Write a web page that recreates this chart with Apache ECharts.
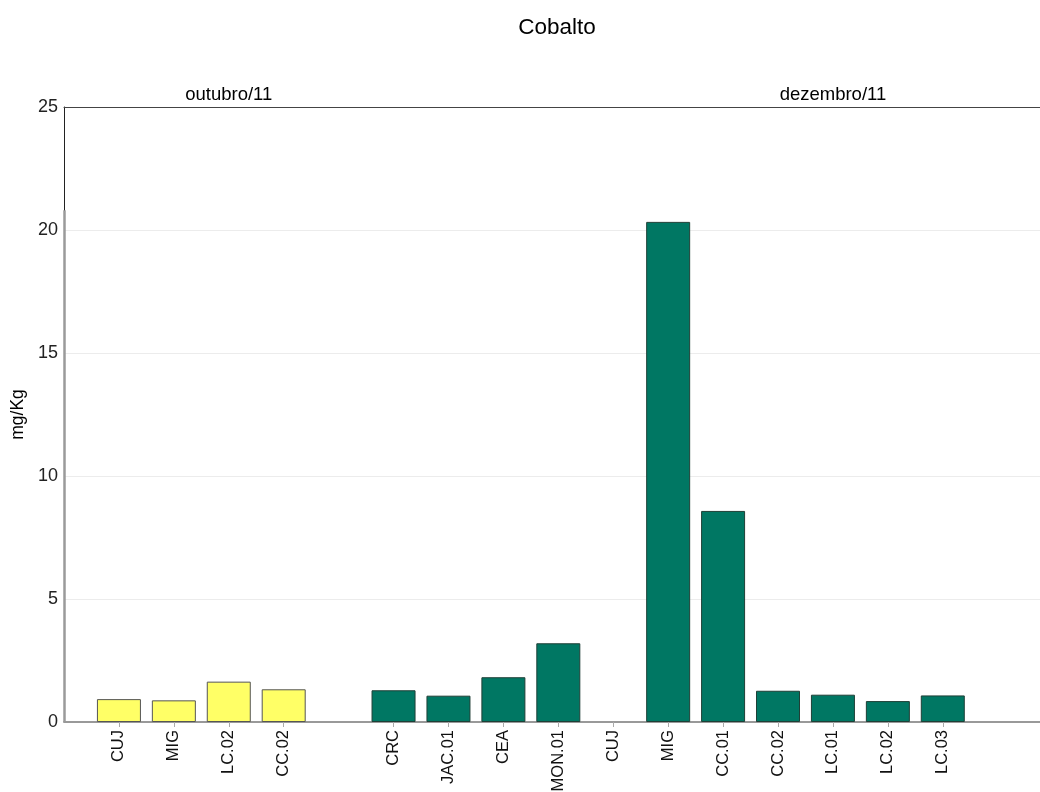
<!DOCTYPE html>
<html>
<head>
<meta charset="utf-8">
<script src="https://cdn.jsdelivr.net/npm/echarts@6/dist/echarts.min.js"></script>
<style>
  html, body { margin: 0; padding: 0; background: #fff; }
  #chart { width: 1040px; height: 792px; }
</style>
</head>
<body>
<div id="chart"></div>
<script>
// Sampling stations along the x axis; empty strings leave a gap slot.
const categories = ["", "CUJ", "MIG", "LC.02", "CC.02", "", "CRC", "JAC.01", "CEA", "MON.01",
  "CUJ", "MIG", "CC.01", "CC.02", "LC.01", "LC.02", "LC.03"];

// Cobalt concentration (mg/Kg) per campaign
const outubroStations = ["CUJ", "MIG", "LC.02", "CC.02"];
const outubroValues = [0.93, 0.88, 1.64, 1.33];
const outubroSlots = [1, 2, 3, 4];

const dezembroStations = ["CRC", "JAC.01", "CEA", "MON.01", "CUJ", "MIG", "CC.01", "CC.02", "LC.01", "LC.02", "LC.03"];
const dezembroValues = [1.29, 1.07, 1.82, 3.2, 0, 20.33, 8.58, 1.27, 1.11, 0.85, 1.08];
const dezembroSlots = [6, 7, 8, 9, 10, 11, 12, 13, 14, 15, 16];

// Campaign headings and the slot each one sits over
const groupNames = ["outubro/11", "dezembro/11"];
const groupSlots = [3, 14];

const yTicks = [0, 5, 10, 15, 20, 25];

const labelSlots = categories.map((c, i) => (c ? i : -1)).filter(i => i >= 0);

// A zero reading gets no outline so nothing shows on the baseline.
function barData(slots, values) {
  return slots.map((s, i) => ({
    value: [s, values[i]],
    itemStyle: values[i] === 0 ? { borderWidth: 0, opacity: 0 } : undefined
  }));
}

const chart = echarts.init(document.getElementById('chart'));
const font = 'Liberation Sans, Arial, sans-serif';

chart.setOption({
  animation: false,
  backgroundColor: '#fff',
  textStyle: { fontFamily: font },
  title: {
    text: 'Cobalto',
    left: 552,
    top: 11,
    textAlign: 'center',
    textStyle: { fontSize: 22.5, fontWeight: 'normal', color: '#000', fontFamily: font }
  },
  grid: { left: 64, right: 0, top: 107, bottom: 70, outerBoundsMode: 'none', containLabel: false },
  xAxis: [
    {
      type: 'value',
      min: 0,
      max: 17.77,
      interval: 1,
      splitLine: { show: false },
      axisLine: { show: true, lineStyle: { color: '#999', width: 2 } },
      axisTick: { show: true, customValues: labelSlots, length: 5, lineStyle: { color: '#aaa', width: 1 } },
      axisLabel: {
        customValues: labelSlots,
        rotate: 90,
        margin: 8,
        fontSize: 16.5,
        color: '#111',
        fontFamily: font,
        formatter: v => categories[Math.round(v)] || ''
      }
    },
    {
      type: 'value',
      position: 'top',
      min: 0,
      max: 17.77,
      interval: 1,
      splitLine: { show: false },
      axisLine: { show: true, lineStyle: { color: '#444', width: 1 } },
      axisTick: { show: false },
      axisLabel: {
        customValues: groupSlots,
        margin: 3,
        fontSize: 18.5,
        color: '#000',
        fontFamily: font,
        formatter: v => groupNames[groupSlots.indexOf(Math.round(v))] || ''
      }
    }
  ],
  yAxis: {
    type: 'value',
    min: 0,
    max: 25,
    interval: 5,
    name: 'mg/Kg',
    nameLocation: 'middle',
    nameGap: 35,
    nameTextStyle: { fontSize: 17.5, color: '#000', fontFamily: font },
    axisLine: { show: true, lineStyle: { color: '#222', width: 1 } },
    axisTick: { show: false },
    axisLabel: {
      fontSize: 18,
      color: '#222',
      margin: 6,
      fontFamily: font,
      customValues: yTicks
    },
    splitLine: { show: true, lineStyle: { color: '#ececec', width: 1 } }
  },
  series: [
    {
      name: 'outubro/11',
      type: 'bar',
      barWidth: 44,
      barGap: '-100%',
      itemStyle: { color: '#ffff66', borderColor: '#555', borderWidth: 1 },
      data: barData(outubroSlots, outubroValues),
      markLine: {
        silent: true,
        symbol: 'none',
        label: { show: false },
        lineStyle: { color: '#9a9a9a', width: 2.5, type: 'solid' },
        data: [[{ coord: [0, 0] }, { coord: [0, 20.8] }]]
      }
    },
    {
      name: 'dezembro/11',
      type: 'bar',
      barWidth: 44,
      barGap: '-100%',
      itemStyle: { color: '#007763', borderColor: '#1f3f36', borderWidth: 1 },
      data: barData(dezembroSlots, dezembroValues)
    }
  ]
});
</script>
</body>
</html>
